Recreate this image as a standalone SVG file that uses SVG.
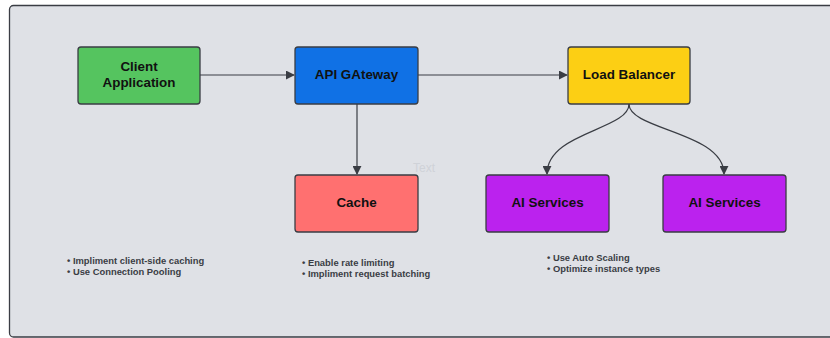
<svg xmlns="http://www.w3.org/2000/svg" width="830" height="338" viewBox="0 0 830 338">
<style>
.node{stroke:#3a3d44;stroke-width:1.3}
.lbl{font-family:"Liberation Sans",Arial,sans-serif;font-weight:bold;font-size:13.4px;fill:#111;text-anchor:middle}
.note{font-family:"Liberation Sans",Arial,sans-serif;font-weight:bold;font-size:9.4px;fill:#3a3d44}
.conn{fill:none;stroke:#3a3d44;stroke-width:1.2}
</style>
<defs>
<marker id="arr" viewBox="0 0 10 10" refX="9" refY="5" markerWidth="9" markerHeight="9" orient="auto" markerUnits="userSpaceOnUse">
<path d="M0,0 L10,5 L0,10 z" fill="#3a3d44"/>
</marker>
</defs>
<rect x="0" y="0" width="830" height="338" fill="#ffffff"/>
<rect id="frame" x="9.5" y="5.5" width="840" height="331.5" rx="4" fill="#dfe1e6" stroke="#3a3d44" stroke-width="1.3"/>
<g id="connectors">
<path class="conn" d="M200,75 L294,75" marker-end="url(#arr)"/>
<path class="conn" d="M418,75 L567,75" marker-end="url(#arr)"/>
<path class="conn" d="M357,104 L357,174" marker-end="url(#arr)"/>
<path class="conn" d="M629,104 C629,130 547,132 547,174" marker-end="url(#arr)"/>
<path class="conn" d="M629,104 C629,130 724,132 724,174" marker-end="url(#arr)"/>
</g>
<g id="client">
<rect class="node" x="78" y="47" width="122" height="57" rx="3" fill="#55c45f"/>
<text class="lbl" x="139" y="71">Client</text>
<text class="lbl" x="139" y="87">Application</text>
</g>
<g id="gateway">
<rect class="node" x="295" y="47" width="123" height="57" rx="3" fill="#1071e5"/>
<text class="lbl" x="356.5" y="79">API GAteway</text>
</g>
<g id="lb">
<rect class="node" x="568" y="47" width="122" height="57" rx="3" fill="#fccf14"/>
<text class="lbl" x="629" y="79">Load Balancer</text>
</g>
<g id="cache">
<rect class="node" x="295" y="175" width="123" height="57" rx="3" fill="#ff7070"/>
<text class="lbl" x="356.5" y="207">Cache</text>
</g>
<g id="ai1">
<rect class="node" x="486" y="175" width="123" height="57" rx="3" fill="#bb22ee"/>
<text class="lbl" x="547.5" y="207">AI Services</text>
</g>
<g id="ai2">
<rect class="node" x="663" y="175" width="123" height="57" rx="3" fill="#bb22ee"/>
<text class="lbl" x="724.5" y="207">AI Services</text>
</g>
<text x="413" y="172" font-family="'Liberation Sans',Arial,sans-serif" font-size="12" fill="#cfd2d8">Text</text>
<g id="notes1">
<text class="note" x="67" y="264">• Impliment client-side caching</text>
<text class="note" x="67" y="275">• Use Connection Pooling</text>
</g>
<g id="notes2">
<text class="note" x="302" y="266">• Enable rate limiting</text>
<text class="note" x="302" y="277">• Impliment request batching</text>
</g>
<g id="notes3">
<text class="note" x="547" y="261">• Use Auto Scaling</text>
<text class="note" x="547" y="272">• Optimize instance types</text>
</g>
</svg>
